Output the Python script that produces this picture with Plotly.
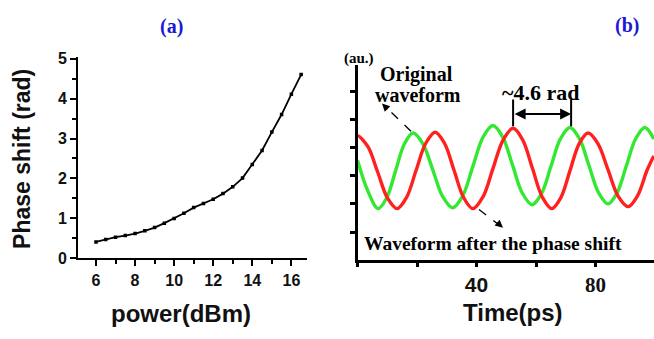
import plotly.graph_objects as go

# ---------- Panel (a) data ----------
power_dbm = [6, 6.5, 7, 7.5, 8, 8.5, 9, 9.5, 10, 10.5, 11, 11.5, 12, 12.5,
             13, 13.5, 14, 14.5, 15, 15.5, 16, 16.5]
phase_rad = [0.41, 0.47, 0.53, 0.57, 0.62, 0.69, 0.77, 0.88, 1.00, 1.13, 1.27,
             1.37, 1.48, 1.62, 1.79, 2.01, 2.35, 2.70, 3.16, 3.60, 4.11, 4.60]
a_xticks = [6, 8, 10, 12, 14, 16]
a_yticks = [0, 1, 2, 3, 4, 5]

# ---------- Panel (b) data ----------
green_t = [0, 3.5, 6.9, 9.85, 12.8, 15.75, 18.7, 22.03, 25.35, 28.68, 32.0,
           35.38, 38.75, 42.13, 45.5, 48.8, 52.1, 55.4, 58.7, 61.88, 65.05,
           68.23, 71.4, 74.6, 77.8, 81.0, 84.2, 87.3, 90.4, 93.5, 96.6, 99.6]
green_v = [3.55, 2.45, 1.83, 2.22, 3.17, 4.12, 4.51, 4.12, 3.19, 2.25, 1.86,
           2.29, 3.32, 4.35, 4.78, 4.37, 3.38, 2.38, 1.97, 2.37, 3.34,
           4.31, 4.71, 4.31, 3.36, 2.40, 2.00, 2.40, 3.36, 4.31, 4.71, 4.30]
red_t = [0, 0.3, 3.55, 6.8, 10.05, 13.3, 16.5, 19.7, 22.9, 26.1, 29.28, 32.45,
         35.63, 38.8, 42.18, 45.55, 48.93, 52.3, 55.55, 58.8, 62.05, 65.3,
         68.35, 71.4, 74.45, 77.5, 80.85, 84.2, 87.55, 90.9, 94.1, 97.35, 99.6]
red_v = [4.38, 4.40, 4.02, 3.12, 2.21, 1.83, 2.23, 3.19, 4.14, 4.54, 4.14, 3.19,
         2.23, 1.83, 2.25, 3.26, 4.26, 4.68, 4.26, 3.26, 2.25, 1.83,
         2.22, 3.17, 4.12, 4.51, 4.13, 3.21, 2.28, 1.90, 2.28, 3.20, 3.70]
b_xticks = [0, 20, 40, 60, 80]
b_xticktext = ["", "", "<b>40</b>", "",
               '<span style="font-family:Liberation Serif,serif"><b>80</b></span>']
b_yticks = [1, 2, 3, 4, 5, 6]

W, H = 654, 339
def px(x):
    return x / W
def py(y):
    return 1 - y / H

SANS = "Liberation Sans, Arial, sans-serif"
SERIF = "Liberation Serif, Times New Roman, serif"
BLUE = "#1a1ad6"

fig = go.Figure()

fig.add_trace(go.Scatter(
    x=power_dbm, y=phase_rad, mode="lines+markers",
    line=dict(color="black", width=1.8),
    marker=dict(symbol="square", size=3.5, color="black"),
    xaxis="x", yaxis="y", showlegend=False))

fig.add_trace(go.Scatter(
    x=green_t, y=green_v, mode="lines",
    line=dict(color="#33e833", width=3.4, shape="spline", smoothing=1.0),
    xaxis="x2", yaxis="y2", showlegend=False))
fig.add_trace(go.Scatter(
    x=red_t, y=red_v, mode="lines",
    line=dict(color="#ff2020", width=3.4, shape="spline", smoothing=1.0),
    xaxis="x2", yaxis="y2", showlegend=False))

axis_common = dict(showgrid=False, zeroline=False, showline=True,
                   linecolor="black", ticks="outside", tickcolor="black")

fig.update_layout(
    width=W, height=H, autosize=False,
    margin=dict(l=0, r=0, t=0, b=0),
    paper_bgcolor="white", plot_bgcolor="white",
    xaxis=dict(**axis_common, domain=[px(78), px(307)], range=[5.08, 16.8],
               tickvals=a_xticks, ticklen=6, tickwidth=2, linewidth=2,
               tickfont=dict(family=SANS, size=16, color="#111", weight="bold"),
               minor=dict(dtick=1, tick0=0, ticklen=4, tickwidth=2, ticks="outside", tickcolor="black"),
               anchor="y"),
    yaxis=dict(**axis_common, domain=[py(264), py(53)], range=[0, 5.05],
               tickvals=a_yticks, ticklen=6, tickwidth=2, linewidth=2,
               tickfont=dict(family=SANS, size=16, color="#111", weight="bold"),
               minor=dict(dtick=0.5, tick0=0, ticklen=4, tickwidth=2, ticks="outside", tickcolor="black"),
               anchor="x"),
    xaxis2=dict(**axis_common, domain=[px(357.5), 1.0], range=[0, 99.66],
                tickvals=b_xticks, ticktext=b_xticktext, ticklen=4, tickwidth=2.5,
                linewidth=2.5,
                tickfont=dict(family=SANS, size=21, color="#111"),
                anchor="y2"),
    yaxis2=dict(**axis_common, domain=[py(266), py(62)], range=[0, 6.915],
                tickvals=b_yticks, showticklabels=False, ticklen=5, tickwidth=2.5,
                linewidth=2.5, anchor="x2"),
)

ann = []
def text(x, y, s, size, family, color="black", angle=0, xanchor="center"):
    ann.append(dict(x=px(x), y=py(y), xref="paper", yref="paper", text=s,
                    showarrow=False, textangle=angle,
                    font=dict(family=family, size=size, color=color),
                    xanchor=xanchor, yanchor="middle"))

text(171, 21, "<b>(a)</b>", 20, SERIF, BLUE)
text(627, 20, "<b>(b)</b>", 20, SERIF, BLUE)
text(22, 160, "<b>Phase shift (rad)</b>", 23, SANS, "#111", -90)
text(181, 322, "<b>power(dBm)</b>", 24, SANS, "#111")
text(513, 321, "<b>Time(ps)</b>", 24, SANS, "#111")
text(359, 55, "<b>(au.)</b>", 15, SERIF)
text(416, 72, "<b>Original</b>", 20, SERIF)
text(418, 93, "<b>waveform</b>", 20, SERIF)
text(540, 90, "<b>~4.6 rad</b>", 22, SERIF)
text(362, 248, "<b>Waveform after the phase shift</b>", 19.5, SERIF, xanchor="left")

# arrowheads for the dashed leader lines
ann.append(dict(x=px(382), y=py(102), xref="paper", yref="paper", text="",
                showarrow=True, arrowhead=2, arrowsize=1.2, arrowwidth=1.3,
                arrowcolor="black", ax=7, ay=7))
ann.append(dict(x=px(503), y=py(232), xref="paper", yref="paper", text="",
                showarrow=True, arrowhead=2, arrowsize=1.2, arrowwidth=1.3,
                arrowcolor="black", ax=-7, ay=-6))
# double arrow between the peaks
ann.append(dict(x=71.8, y=5.19, xref="x2", yref="y2", ax=52.3, ay=5.19,
                axref="x2", ayref="y2", text="", showarrow=True,
                arrowhead=2, startarrowhead=2, arrowside="end+start",
                arrowsize=1.1, startarrowsize=1.1, arrowwidth=2, arrowcolor="black"))
fig.update_layout(annotations=ann)

shapes = [
    dict(type="line", xref="paper", yref="paper", x0=px(411), y0=py(131),
         x1=px(386), y1=py(106), line=dict(color="black", width=1.3, dash="dash")),
    dict(type="line", xref="paper", yref="paper", x0=px(479), y0=py(213),
         x1=px(499), y1=py(229), line=dict(color="black", width=1.3, dash="dash")),
    dict(type="line", xref="x2", yref="y2", x0=52.3, x1=52.3, y0=4.75, y1=5.7,
         line=dict(color="black", width=2)),
    dict(type="line", xref="x2", yref="y2", x0=71.8, x1=71.8, y0=4.75, y1=5.7,
         line=dict(color="black", width=2)),
]
fig.update_layout(shapes=shapes)

fig.write_html("out.html",
               config={"displayModeBar": False, "responsive": False},
               post_script="document.body.style.margin='0';document.body.style.overflow='hidden';")
